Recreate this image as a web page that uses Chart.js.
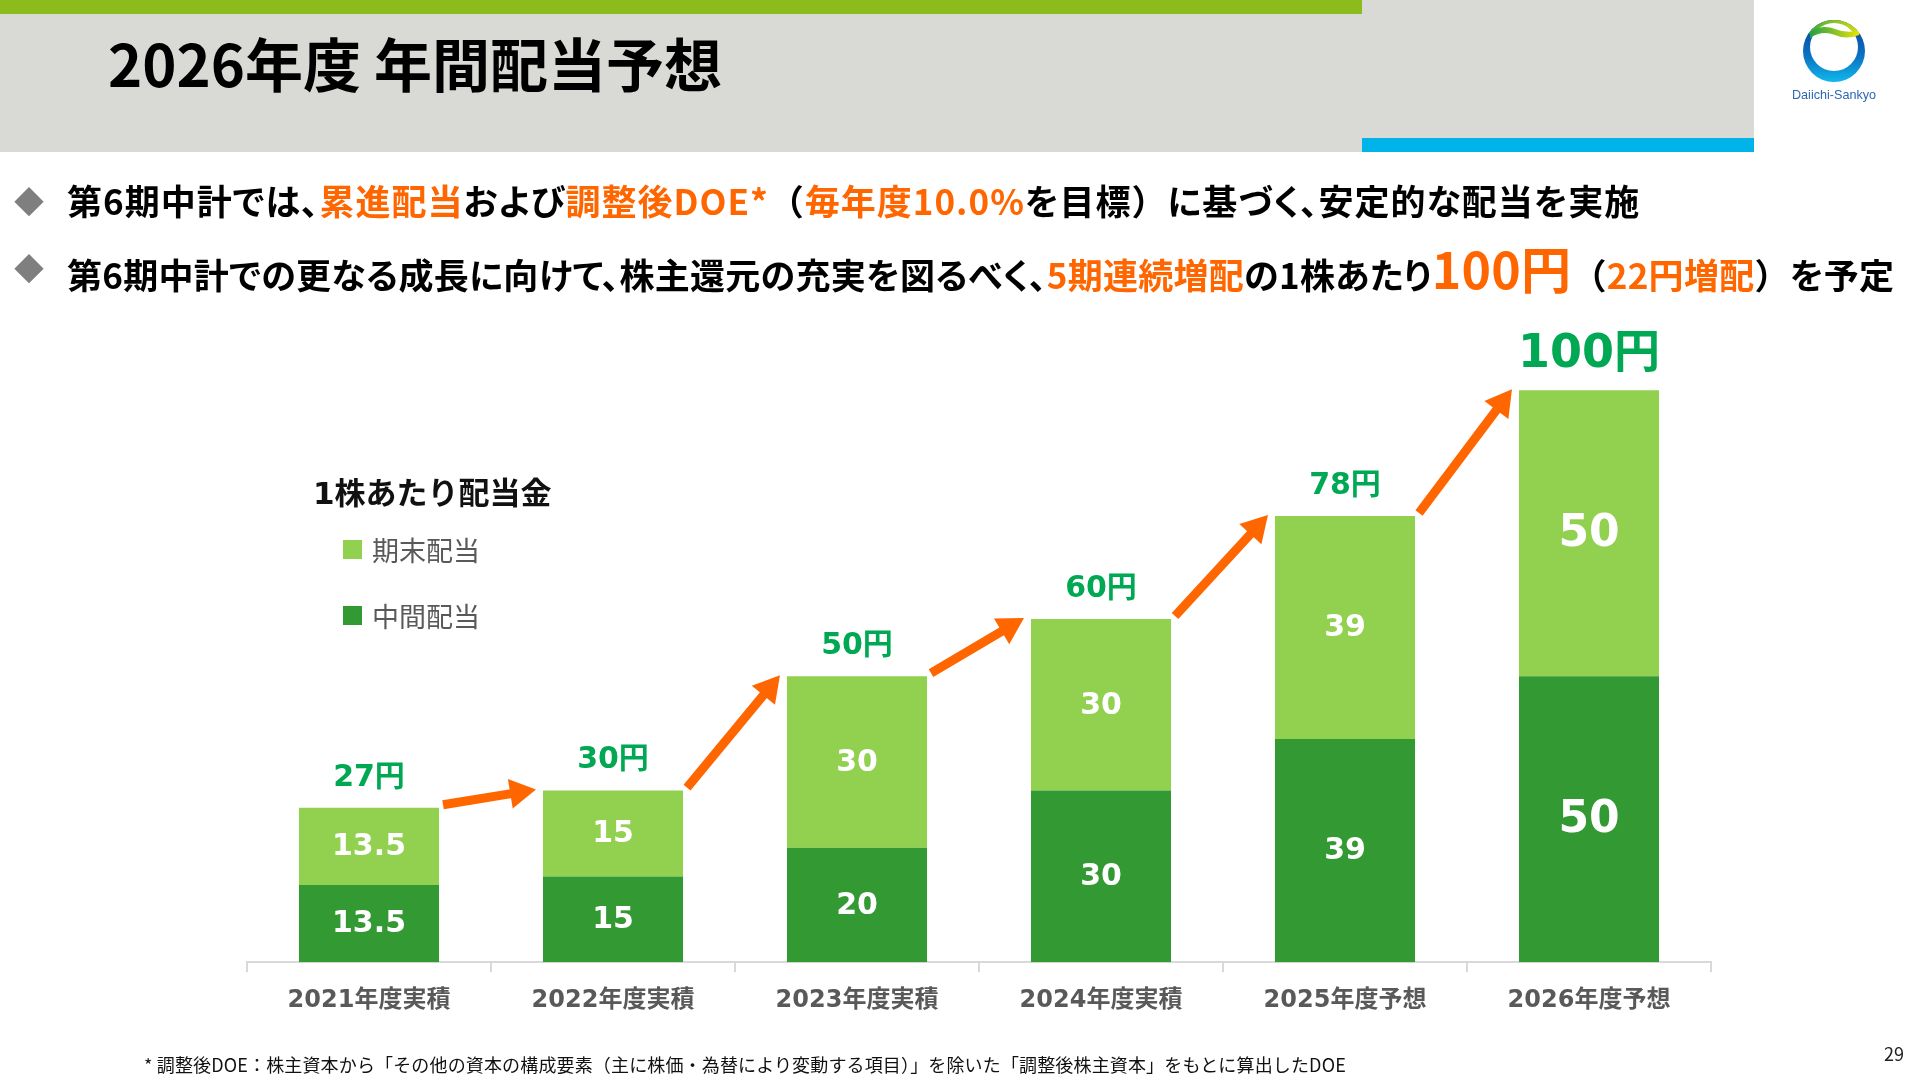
<!DOCTYPE html>
<html lang="ja">
<head>
<meta charset="utf-8">
<title>2026年度 年間配当予想</title>
<script src="https://cdn.jsdelivr.net/npm/chart.js@4.4.1/dist/chart.umd.min.js"></script>
<style>
    body { margin: 0; background: #fff; }
    #page { position: relative; width: 1920px; height: 1080px; overflow: hidden; background: #fff;
            font-family: "Noto Sans CJK JP", "Noto Sans", sans-serif; }
    #chart { position: absolute; left: 0; top: 0; }
    .abs { position: absolute; white-space: nowrap; }
    .orange { color: #FF6600; }
    .palt { font-feature-settings: "palt" 1; }
    .full { font-feature-settings: "palt" 0; }
</style>
</head>
<body>
<div id="page">
    <canvas id="chart" width="1920" height="1080"></canvas>

    <!-- cabecera -->
    <div class="abs" style="left:0;top:0;width:1754px;height:152px;background:#D9D9D5;"></div>
    <div class="abs" style="left:0;top:0;width:1362px;height:14px;background:#8CBB1C;"></div>
    <div class="abs" style="left:1362px;top:138px;width:392px;height:14px;background:#00B4EA;"></div>
    <div class="abs" style="left:108px;top:22px;height:80px;line-height:80px;font-size:58px;font-weight:bold;color:#000;">2026年度 年間配当予想</div>

    <!-- logo -->
    <svg class="abs" style="left:1789px;top:8px;" width="90" height="96" viewBox="0 0 90 96">
        <defs>
            <linearGradient id="azul" x1="0" y1="0" x2="0" y2="1">
                <stop offset="0" stop-color="#0B3F96"/>
                <stop offset="0.6" stop-color="#0A74C4"/>
                <stop offset="1" stop-color="#12B8EC"/>
            </linearGradient>
            <linearGradient id="tapa" x1="0" y1="0" x2="1" y2="0">
                <stop offset="0" stop-color="#1FA04A"/>
                <stop offset="1" stop-color="#F4E600"/>
            </linearGradient>
            <clipPath id="circ"><circle cx="45" cy="43" r="31"/></clipPath>
        </defs>
        <circle cx="45" cy="43" r="31" fill="url(#azul)"/>
        <rect x="10" y="8" width="70" height="18" fill="url(#tapa)" clip-path="url(#circ)"/>
        <circle cx="45" cy="39" r="24" fill="#fff"/>
        <path d="M21,30 Q33,22 46,27 Q58,32 70,27 L72,22 Q58,26 46,21 Q33,16 21,24 Z" fill="url(#tapa)" clip-path="url(#circ)"/>
        <text x="45" y="91" text-anchor="middle" font-family="Liberation Sans Narrow, Liberation Sans" font-size="13" textLength="84" lengthAdjust="spacingAndGlyphs" fill="#2A68B4">Daiichi-Sankyo</text>
    </svg>

    <!-- puntos -->
    <div class="abs" style="left:14px;top:178px;height:44px;line-height:44px;font-size:30px;color:#7F7F7F;">◆</div>
    <div class="abs palt" style="left:67px;top:178px;height:44px;line-height:44px;font-size:35px;font-weight:bold;color:#000;letter-spacing:1px;">第6期中計では、<span class="orange">累進配当</span>および<span class="orange">調整後DOE*</span><span class="full">（</span><span class="orange">毎年度10.0%</span>を目標<span class="full">）</span>に基づく、安定的な配当を実施</div>
    <div class="abs" style="left:14px;top:245px;height:44px;line-height:44px;font-size:30px;color:#7F7F7F;">◆</div>
    <div class="abs palt" style="left:67px;top:241px;height:52px;line-height:52px;font-size:35px;font-weight:bold;color:#000;letter-spacing:0.3px;">第6期中計での更なる成長に向けて、株主還元の充実を図るべく、<span class="orange">5期連続増配</span>の1株あたり<span class="orange" style="font-size:50px;">100円</span><span class="full">（</span><span class="orange">22円増配</span><span class="full">）</span>を予定</div>

    <!-- leyenda -->
    <div class="abs" style="left:313px;top:473px;height:40px;line-height:40px;font-size:31px;font-weight:bold;color:#111;font-family:'DejaVu Sans','Noto Sans CJK JP',sans-serif;">1株あたり配当金</div>
    <div id="leyenda"></div>

    <!-- nota -->
    <div class="abs" style="left:144px;top:1052px;height:24px;line-height:24px;font-size:18px;color:#111;letter-spacing:0.15px;">* 調整後DOE：株主資本から「その他の資本の構成要素（主に株価・為替により変動する項目）」を除いた「調整後株主資本」をもとに算出したDOE</div>
    <div class="abs" style="left:1884px;top:1041px;height:24px;line-height:24px;font-size:18px;color:#222;">29</div>
</div>

<script>
// Datos del gráfico
const categorias = ['2021年度実積', '2022年度実積', '2023年度実積', '2024年度実積', '2025年度予想', '2026年度予想'];
const dividendoInterino = [13.5, 15, 20, 30, 39, 50];   // 中間配当
const dividendoFinal = [13.5, 15, 30, 30, 39, 50];      // 期末配当
const yMax = 110;

const VERDE_OSCURO = '#339933';
const VERDE_CLARO = '#92D050';
const VERDE_TEXTO = '#00A854';
const NARANJA = '#FF6600';
const FUENTE_NUM = "'DejaVu Sans', 'Noto Sans CJK JP', sans-serif";

// Etiquetas dentro de las barras y totales encima
const etiquetasPlugin = {
    id: 'etiquetas',
    afterDatasetsDraw(chart) {
        const ctx = chart.ctx;
        const ultimo = categorias.length - 1;
        ctx.save();
        ctx.textAlign = 'center';
        ctx.textBaseline = 'middle';
        chart.data.datasets.forEach((ds, d) => {
            chart.getDatasetMeta(d).data.forEach((bar, i) => {
                const size = i === ultimo ? 44 : 30;
                ctx.font = `bold ${size}px ${FUENTE_NUM}`;
                ctx.fillStyle = '#fff';
                ctx.fillText(String(ds.data[i]), bar.x, (bar.y + bar.base) / 2 + 1);
            });
        });
        const arriba = chart.getDatasetMeta(chart.data.datasets.length - 1).data;
        arriba.forEach((bar, i) => {
            const total = dividendoInterino[i] + dividendoFinal[i];
            const size = i === ultimo ? 46 : 30;
            ctx.font = `bold ${size}px ${FUENTE_NUM}`;
            ctx.fillStyle = VERDE_TEXTO;
            ctx.fillText(total + '円', bar.x, bar.y - (size * 0.3 + 21));
        });
        ctx.restore();
    }
};

// Flechas naranjas entre barras
const flechasPlugin = {
    id: 'flechas',
    afterDatasetsDraw(chart) {
        const ctx = chart.ctx;
        const barras = chart.getDatasetMeta(chart.data.datasets.length - 1).data;
        ctx.save();
        ctx.fillStyle = NARANJA;
        ctx.strokeStyle = NARANJA;
        ctx.lineWidth = 9;
        for (let i = 0; i < barras.length - 1; i++) {
            const a = barras[i], b = barras[i + 1];
            const x0 = a.x + a.width / 2 + 4, y0 = a.y - 3;
            const x1 = b.x - b.width / 2 - 7, y1 = b.y - 1;
            const ang = Math.atan2(y1 - y0, x1 - x0);
            const largo = 26, ancho = 15;
            const bx = x1 - largo * Math.cos(ang), by = y1 - largo * Math.sin(ang);
            ctx.beginPath();
            ctx.moveTo(x0, y0);
            ctx.lineTo(bx + Math.cos(ang), by + Math.sin(ang));
            ctx.stroke();
            ctx.beginPath();
            ctx.moveTo(x1, y1);
            ctx.lineTo(bx + ancho * Math.sin(ang), by - ancho * Math.cos(ang));
            ctx.lineTo(bx - ancho * Math.sin(ang), by + ancho * Math.cos(ang));
            ctx.closePath();
            ctx.fill();
        }
        ctx.restore();
    }
};

const ctx = document.getElementById('chart').getContext('2d');
const grafica = new Chart(ctx, {
    type: 'bar',
    data: {
        labels: categorias,
        datasets: [
            { label: '中間配当', data: dividendoInterino, backgroundColor: VERDE_OSCURO },
            { label: '期末配当', data: dividendoFinal, backgroundColor: VERDE_CLARO }
        ]
    },
    options: {
        responsive: false,
        animation: false,
        layout: { padding: { left: 247, right: 209, top: 333, bottom: 51 } },
        datasets: { bar: { categoryPercentage: 1, barPercentage: 0.574 } },
        plugins: {
            legend: { display: false },
            tooltip: { enabled: false }
        },
        scales: {
            x: {
                stacked: true,
                grid: { offset: true, drawOnChartArea: false, tickLength: 10, color: '#D9D9D9', lineWidth: 2 },
                border: { display: true, color: '#D9D9D9', width: 2 },
                ticks: {
                    color: '#595959',
                    padding: 14,
                    font: { family: FUENTE_NUM, size: 24, weight: 'bold' }
                }
            },
            y: { stacked: true, display: false, min: 0, max: yMax }
        }
    },
    plugins: [etiquetasPlugin, flechasPlugin]
});

// Leyenda propia (期末配当 arriba, 中間配当 abajo)
const leyenda = document.getElementById('leyenda');
grafica.data.datasets.slice().reverse().forEach((ds, i) => {
    const top = 540 + i * 66;
    leyenda.innerHTML += `
        <div class="abs" style="left:343px;top:${top}px;width:19px;height:19px;background:${ds.backgroundColor};"></div>
        <div class="abs" style="left:372px;top:${top - 10}px;height:40px;line-height:40px;font-size:27px;color:#595959;">${ds.label}</div>`;
});
</script>
</body>
</html>
